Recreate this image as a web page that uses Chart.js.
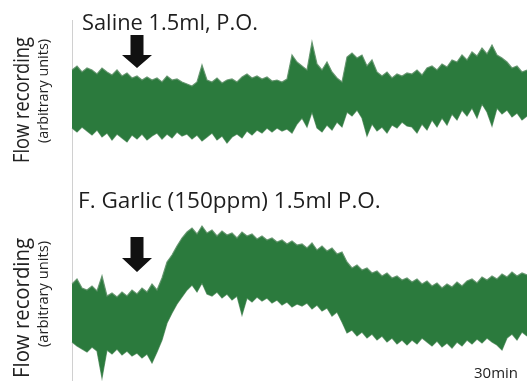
<!DOCTYPE html>
<html>
<head>
<meta charset="utf-8">
<script src="https://cdn.jsdelivr.net/npm/chart.js@4.4.0/dist/chart.umd.min.js"></script>
<style>
  html, body { margin: 0; padding: 0; background: #fff; }
  #wrap { position: relative; width: 527px; height: 381px; }
  .panel { position: absolute; left: 0; width: 527px; }
  #p1 { top: 0; height: 190px; }
  #p2 { top: 190px; height: 191px; }
</style>
</head>
<body>
<div id="wrap">
  <div class="panel" id="p1"><canvas id="salineChart"></canvas></div>
  <div class="panel" id="p2"><canvas id="garlicChart"></canvas></div>
</div>
<script>
// flow recording envelopes (arbitrary units), one reading every sample
var salineUpper = [
  120, 124, 118, 122, 120, 116, 122, 118, 115, 120, 114, 117, 112, 114, 110, 113, 110, 112, 108, 114, 110, 111, 108,
  106, 104, 108, 125, 110, 108, 112, 107, 110, 111, 108, 113, 116, 112, 114, 111, 113, 109, 110, 108, 111, 135, 128,
  124, 120, 148, 126, 120, 128, 118, 112, 108, 133, 137, 132, 135, 124, 130, 118, 114, 118, 112, 116, 114, 117,
  116, 120, 115, 122, 124, 120, 126, 123, 130, 128, 135, 130, 138, 134, 142, 136, 145, 135, 132, 128, 122, 124, 118, 120
];
var salineLower = [
  62, 58, 63, 59, 55, 60, 53, 57, 50, 56, 52, 48, 55, 51, 56, 50, 54, 57, 51, 56, 52, 58, 54,
  56, 51, 55, 49, 53, 57, 50, 54, 47, 53, 56, 52, 59, 55, 60, 57, 62, 58, 62, 59, 61, 57, 66,
  72, 63, 78, 62, 58, 65, 60, 68, 63, 78, 74, 80, 72, 54, 66, 59, 63, 57, 65, 62, 68, 64,
  63, 57, 66, 60, 70, 63, 72, 65, 76, 70, 80, 74, 82, 72, 86, 78, 64, 82, 76, 80, 73, 77, 70, 74
];
var garlicUpper = [
  97, 102, 93, 91, 95, 90, 105, 85, 88, 84, 89, 85, 91, 87, 93, 89, 97, 91, 103, 119, 126, 135, 143,
  149, 153, 147, 155, 148, 151, 145, 150, 146, 148, 143, 149, 145, 147, 142, 145, 141, 143, 139, 141, 137, 140, 136,
  137, 133, 138, 131, 135, 130, 133, 127, 129, 119, 113, 116, 111, 113, 108, 110, 105, 108, 103, 105, 101, 103,
  99, 102, 97, 100, 95, 98, 93, 97, 94, 99, 95, 100, 102, 98, 104, 101, 105, 102, 107, 104, 109, 105, 108, 106
];
var garlicLower = [
  39, 35, 32, 29, 34, 30, 3, 31, 27, 32, 26, 30, 25, 28, 23, 27, 18, 29, 41, 58, 68, 77, 84,
  91, 96, 89, 98, 87, 85, 89, 83, 87, 81, 85, 66, 83, 79, 84, 80, 83, 78, 81, 76, 79, 74, 77,
  75, 78, 72, 76, 70, 73, 65, 69, 59, 48, 51, 45, 49, 43, 47, 41, 45, 39, 43, 37, 41, 36,
  41, 37, 43, 39, 35, 40, 34, 38, 33, 39, 35, 41, 37, 42, 38, 43, 39, 36, 31, 43, 47, 41, 49, 45
];
var samples = salineUpper.map(function (_, i) { return i; });

var traceGreen = "#2b7a3d";
var edgeGreen = "rgba(95, 145, 105, 0.9)";
var fontFamily = "'Open Sans', 'Noto Sans', sans-serif";

// font size that makes text span the given width
function fitFont(ctx, text, width) {
  ctx.font = "20px " + fontFamily;
  return 20 * width / ctx.measureText(text).width;
}

// rotated label, squeezed along its length to fit
function sideLabel(ctx, text, size, baseX, midY, len) {
  ctx.save();
  ctx.fillStyle = "#222";
  ctx.textAlign = "center";
  ctx.font = size + "px " + fontFamily;
  var sx = len / ctx.measureText(text).width;
  ctx.translate(baseX, midY);
  ctx.rotate(-Math.PI / 2);
  ctx.scale(sx, 1);
  ctx.fillText(text, 0, 0);
  ctx.restore();
}

// titles, arrows and the rotated y labels
var overlay = {
  id: "overlay",
  afterDatasetsDraw: function (chart, args, opts) {
    var ctx = chart.ctx;
    var x = chart.scales.x, y = chart.scales.y;
    var size;
    ctx.save();
    ctx.fillStyle = "#1e1e1e";
    ctx.textAlign = "left";
    ctx.textBaseline = "alphabetic";
    size = fitFont(ctx, opts.title, opts.titleW);
    ctx.font = size + "px " + fontFamily;
    ctx.fillText(opts.title, opts.titleX, opts.titleY);

    // injection arrow
    var cx = x.getPixelForValue(opts.arrowAt);
    var top = y.getPixelForValue(opts.arrowTop);
    var base = y.getPixelForValue(opts.arrowBase);
    var tip = y.getPixelForValue(opts.arrowTip);
    ctx.fillStyle = "#111";
    ctx.beginPath();
    ctx.moveTo(cx - 6.5, top);
    ctx.lineTo(cx + 6.5, top);
    ctx.lineTo(cx + 6.5, base);
    ctx.lineTo(cx + 15, base);
    ctx.lineTo(cx, tip);
    ctx.lineTo(cx - 15, base);
    ctx.lineTo(cx - 6.5, base);
    ctx.closePath();
    ctx.fill();
    ctx.restore();

    sideLabel(ctx, "Flow recording", 21, 29, opts.mainY, opts.mainLen);
    sideLabel(ctx, "(arbitrary units)", 15, 48, opts.subY, opts.subLen);

    if (opts.note) {
      ctx.save();
      ctx.fillStyle = "#222";
      ctx.textAlign = "left";
      size = fitFont(ctx, opts.note, 44);
      ctx.font = size + "px " + fontFamily;
      ctx.fillText(opts.note, 474, chart.height - 3);
      ctx.restore();
    }
  }
};

function makeTrace(id, upper, lower, yMax, padTop, ov) {
  return new Chart(document.getElementById(id), {
    type: "line",
    data: {
      labels: samples,
      datasets: [
        {
          data: upper,
          borderColor: edgeGreen,
          borderWidth: 1.2,
          backgroundColor: traceGreen,
          fill: "+1",
          pointRadius: 0,
          tension: 0,
        },
        {
          data: lower,
          borderColor: edgeGreen,
          borderWidth: 1.2,
          fill: false,
          pointRadius: 0,
          tension: 0,
        },
      ],
    },
    options: {
      responsive: true,
      maintainAspectRatio: false,
      animation: false,
      layout: { padding: { top: padTop, right: 0, bottom: 0, left: 0 } },
      scales: {
        x: { display: false },
        y: {
          min: 0,
          max: yMax,
          afterFit: function (scale) { scale.width = 72; },
          ticks: { display: false },
          grid: { display: false },
          border: { display: true, color: "#d0d0d0", width: 1 },
        },
      },
      plugins: {
        legend: { display: false },
        tooltip: { enabled: false },
        overlay: ov,
      },
    },
    plugins: [overlay],
  });
}

makeTrace("salineChart", salineUpper, salineLower, 170, 20, {
  title: "Saline 1.5ml, P.O.",
  titleX: 82, titleY: 30, titleW: 176,
  arrowAt: 13, arrowTop: 155, arrowBase: 135, arrowTip: 122,
  mainY: 100, mainLen: 126,
  subY: 91, subLen: 104,
});
makeTrace("garlicChart", garlicUpper, garlicLower, 191, 0, {
  title: "F. Garlic (150ppm) 1.5ml P.O.",
  titleX: 78, titleY: 18, titleW: 303,
  arrowAt: 13, arrowTop: 144, arrowBase: 123, arrowTip: 109,
  mainY: 118, mainLen: 140,
  subY: 104, subLen: 106,
  note: "30min",
});
</script>
</body>
</html>
